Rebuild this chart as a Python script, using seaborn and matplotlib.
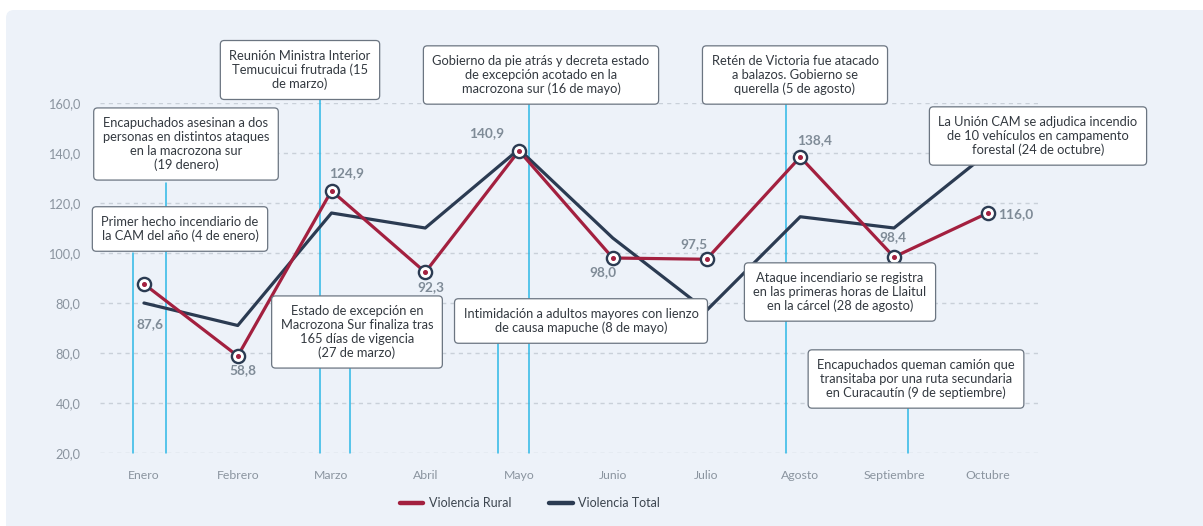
import matplotlib
matplotlib.use("Agg")
import matplotlib.pyplot as plt
import matplotlib.transforms as mtransforms
from matplotlib.patches import FancyBboxPatch
from matplotlib.lines import Line2D
import seaborn as sns
import pandas as pd

# ---------------- data ----------------
months = ["Enero", "Febrero", "Marzo", "Abril", "Mayo", "Junio",
          "Julio", "Agosto", "Septiembre", "Octubre"]
rural = [87.6, 58.8, 124.9, 92.3, 140.9, 98.0, 97.5, 138.4, 98.4, 116.0]
total = [80.0, 71.0, 116.0, 110.0, 141.5, 106.0, 77.0, 114.5, 110.0, 140.0]
rural_labels = ["87,6", "58,8", "124,9", "92,3", "140,9", "98,0",
                "97,5", "138,4", "98,4", "116,0"]
y_ticks = [20, 40, 60, 80, 100, 120, 140, 160]
y_tick_labels = ["20,0", "40,0", "80,0", "80,0", "100,0", "120,0", "140,0", "160,0"]
series_names = ["Violencia Rural", "Violencia Total"]

events = [
    "Primer hecho incendiario de\nla CAM del año (4 de enero)",
    "Encapuchados asesinan a dos\npersonas en distintos ataques\nen la macrozona sur\n(19 denero)",
    "Reunión Ministra Interior\nTemucuicui frutrada (15\nde marzo)",
    "Estado de excepción en\nMacrozona Sur finaliza tras\n165 días de vigencia\n(27 de marzo)",
    "Intimidación a adultos mayores con lienzo\nde causa mapuche (8 de mayo)",
    "Gobierno da pie atrás y decreta estado\nde excepción acotado en la\nmacrozona sur (16 de mayo)",
    "Retén de Victoria fue atacado\na balazos. Gobierno se\nquerella (5 de agosto)",
    "Ataque incendiario se registra\nen las primeras horas de Llaitul\nen la cárcel (28 de agosto)",
    "Encapuchados queman camión que\ntransitaba por una ruta secundaria\nen Curacautín (9 de septiembre)",
    "La Unión CAM se adjudica incendio\nde 10 vehículos en campamento\nforestal (24 de octubre)",
]

# ---------------- layout / style ----------------
W, H = 1203, 526
RED = "#A3203F"
NAVY = "#2B3B52"
CYAN = "#2DB8E6"
GRAY = "#8A949F"
LABEL_GRAY = "#7F8B97"

# event box centres (pixels) and vertical line (x in data units, top in data units)
box_centres = [(180, 229), (186, 144), (300, 70), (357, 332), (581, 321),
               (541, 75), (795, 75), (840, 292), (916, 379), (1038, 136)]
vline_pos = [(-0.117, 100), (0.235, 128), (1.877, 163), (2.197, 54), (3.776, 64),
             (4.107, 160), (6.848, 160), None, (8.149, 38), None]
label_offsets = [(4, -29), (4, -10), (11, 13), (4, -11), (-23, 13),
                 (-7, -10), (-9, 11), (10, 12), (-1, 14), (20, -1)]

sns.set_theme(style="white")
plt.rcParams["font.family"] = ["Lato", "DejaVu Sans"]

fig = plt.figure(figsize=(W / 100, H / 100), dpi=100)
fig.patch.set_facecolor("white")
panel = FancyBboxPatch((6, -30), 1230, 546, boxstyle="round,pad=0,rounding_size=8",
                       transform=mtransforms.IdentityTransform(),
                       facecolor="#EDF2F9", edgecolor="none", zorder=-10)
fig.patches.append(panel)

ax_left, ax_right, ax_top, ax_bottom = 100, 1040, 103, 453
ax = fig.add_axes([ax_left / W, (H - ax_bottom) / H,
                   (ax_right - ax_left) / W, (ax_bottom - ax_top) / H])
ax.set_facecolor("none")

px_per_unit = 93.75
x0 = (ax_left - 144) / px_per_unit
x1 = (ax_right - 144) / px_per_unit
ax.set_xlim(x0, x1)
ax.set_ylim(20, 160)

# grid
for yt in y_ticks:
    ax.axhline(yt, color="#C9D0D9", lw=1, ls=(0, (3, 3)), zorder=1)

# vertical event lines
for vp in vline_pos:
    if vp is None:
        continue
    xv, top = vp
    ax.plot([xv, xv], [20, top], color=CYAN, lw=1.1, zorder=2, clip_on=False)

df = pd.DataFrame({
    "x": list(range(len(months))) * 2,
    "valor": rural + total,
    "serie": [series_names[0]] * len(months) + [series_names[1]] * len(months),
})
sns.lineplot(data=df, x="x", y="valor", hue="serie", palette=[RED, NAVY],
             hue_order=series_names, lw=2.3, ax=ax, zorder=3, legend=False)
lines = ax.get_lines()
for line in lines[-2:]:
    line.set_solid_joinstyle("round")
    line.set_solid_capstyle("round")
lines[-2].set_zorder(4)
lines[-1].set_zorder(3)

xs = list(range(len(months)))
ax.plot(xs, rural, ls="none", marker="o", ms=9.5, mfc="white", mec=NAVY, mew=1.7, zorder=5)
ax.plot(xs, rural, ls="none", marker="o", ms=2.6, mfc=RED, mec=RED, zorder=6)

for xi, v, lab, off in zip(xs, rural, rural_labels, label_offsets):
    ax.annotate(lab, (xi, v), xytext=off, textcoords="offset points",
                ha="center", va="center", fontsize=9.8, fontweight="bold",
                color=LABEL_GRAY, zorder=7)

ax.set_xticks(xs)
ax.set_xticklabels(months, fontsize=8.8, color=GRAY)
ax.set_yticks(y_ticks)
ax.set_yticklabels(y_tick_labels, fontsize=9.2, color=GRAY)
ax.tick_params(axis="x", length=0, pad=12)
ax.tick_params(axis="y", length=0, pad=14)
ax.set_xlabel("")
ax.set_ylabel("")
for s in ax.spines.values():
    s.set_visible(False)

# event boxes
for txt, (cx, cy) in zip(events, box_centres):
    fig.text(cx / W, 1 - cy / H, txt, ha="center", va="center", fontsize=9.3,
             color="#333940", linespacing=1.18, zorder=10,
             bbox=dict(boxstyle="round,pad=0.7,rounding_size=0.3",
                       facecolor="white", edgecolor="#6B7581", lw=0.9))

# legend
handles = [Line2D([], [], color=RED, lw=3.2, solid_capstyle="round"),
           Line2D([], [], color=NAVY, lw=3.2, solid_capstyle="round")]
fig.legend(handles, series_names, loc="center", bbox_to_anchor=(530 / W, 1 - 503 / H),
           ncol=2, frameon=False, fontsize=9, labelcolor="#3D4650",
           handlelength=1.9, handletextpad=0.45, columnspacing=3.0)

fig.savefig("out.png", dpi=100, facecolor=fig.get_facecolor())
